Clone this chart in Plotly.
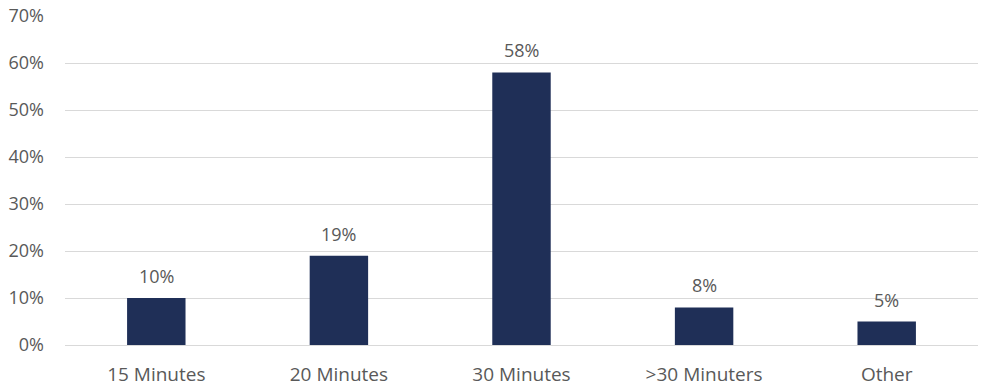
import plotly.graph_objects as go

categories = ["15 Minutes", "20 Minutes", "30 Minutes", ">30 Minuters", "Other"]
shares = [10, 19, 58, 8, 5]
y_tick_vals = [0, 10, 20, 30, 40, 50, 60, 70]
y_tick_text = ["0%", "10%", "20%", "30%", "40%", "50%", "60%", "70%"]

BAR = "#1f2f57"
TEXT = "#595959"
FONT = "Open Sans"

fig = go.Figure(
    go.Bar(
        x=categories,
        y=shares,
        marker=dict(color=BAR, line=dict(width=0)),
        hoverinfo="skip",
    )
)

# value labels above each bar
for c, v in zip(categories, shares):
    fig.add_annotation(
        x=c, y=v, text=f"{v}%", showarrow=False,
        yanchor="bottom", yshift=8,
        font=dict(family=FONT, size=18, color=TEXT),
    )

fig.update_layout(
    width=986, height=388,
    margin=dict(l=65, r=8, t=16, b=43, autoexpand=False),
    paper_bgcolor="white", plot_bgcolor="white",
    bargap=0.68,
    showlegend=False,
    font=dict(family=FONT, size=18, color=TEXT),
)
fig.update_xaxes(
    automargin=False,
    showgrid=False, showline=False, zeroline=False,
    ticks="outside", ticklen=12, tickcolor="rgba(0,0,0,0)",
    tickfont=dict(family=FONT, size=19, color=TEXT),
)
fig.update_yaxes(
    automargin=False,
    range=[0, 70], tickvals=y_tick_vals, ticktext=y_tick_text,
    showgrid=True, gridcolor="#d9d9d9", gridwidth=1,
    zeroline=True, zerolinecolor="#d9d9d9", zerolinewidth=1,
    showline=False, ticklabelstandoff=20,
    tickfont=dict(family=FONT, size=18, color=TEXT),
)

fig.write_html("out.html")
